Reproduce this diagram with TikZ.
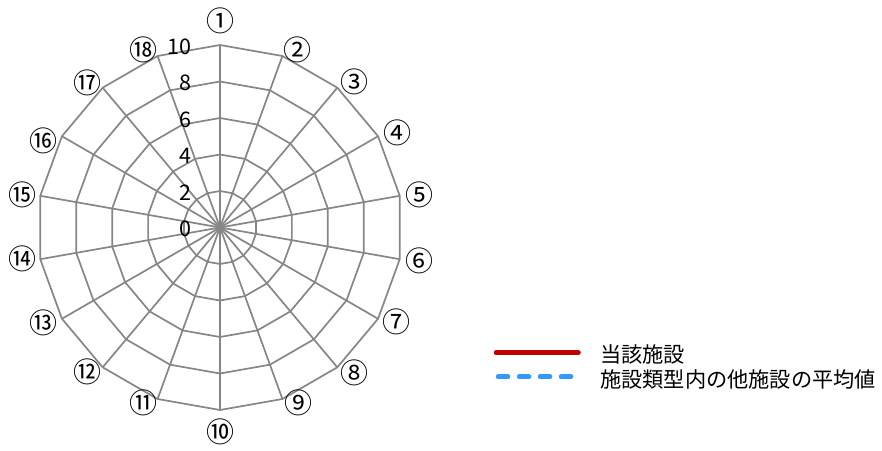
\documentclass[tikz,border=0pt]{standalone}
\usepackage{fontspec}
\setmainfont{Noto Sans CJK JP}
\definecolor{gridgray}{RGB}{134,134,134}
\definecolor{legred}{RGB}{192,0,0}
\definecolor{legblue}{RGB}{51,153,255}
\begin{document}
\begin{tikzpicture}[x=1pt,y=-1pt,
  grid/.style={draw=gridgray,line width=1.7pt},
  axislab/.style={font=\fontsize{28}{28}\selectfont,inner sep=0pt},
  ticklab/.style={font=\fontsize{21.5}{21}\selectfont,inner sep=0pt,anchor=east},
  legtext/.style={font=\fontsize{21.2}{21}\selectfont,inner sep=0pt,anchor=west},
  legline/.style={line width=4.5pt,line cap=round}]
\useasboundingbox (0,0) rectangle (882,450);
\coordinate (C) at (220,227.5);
\foreach \i in {1,...,18}{
  \foreach \k in {1,...,5}{
    \pgfmathsetmacro\px{220+36.5*\k*sin((\i-1)*20)}
    \pgfmathsetmacro\py{227.5-36.5*\k*cos((\i-1)*20)}
    \coordinate (v\k-\i) at (\px,\py);
  }
}
\foreach \k in {1,...,5}{
  \draw[grid] (v\k-1) \foreach \i in {2,...,18}{ -- (v\k-\i)} -- cycle;
}
\foreach \i in {1,...,18}{
  \draw[grid] (C) -- (v5-\i);
}
% tick labels
\node[ticklab] (t0) at (192,229) {0};
\node[ticklab] (t2) at (192,192.5) {2};
\node[ticklab] (t4) at (192,156) {4};
\node[ticklab] (t6) at (192,119.5) {6};
\node[ticklab] (t8) at (192,83) {8};
\node[ticklab] (t10) at (192,46.5) {10};
% axis labels
\node[axislab] (a1) at (220,21) {①};
\node[axislab] (a2) at (297,50) {②};
\node[axislab] (a3) at (354,82) {③};
\node[axislab] (a4) at (397,133) {④};
\node[axislab] (a5) at (419,195) {⑤};
\node[axislab] (a6) at (419,261) {⑥};
\node[axislab] (a7) at (396,322) {⑦};
\node[axislab] (a8) at (354,373) {⑧};
\node[axislab] (a9) at (298,403) {⑨};
\node[axislab] (a10) at (220,432) {⑩};
\node[axislab] (a11) at (143,403) {⑪};
\node[axislab] (a12) at (87,372) {⑫};
\node[axislab] (a13) at (43,323) {⑬};
\node[axislab] (a14) at (23,259) {⑭};
\node[axislab] (a15) at (23,195) {⑮};
\node[axislab] (a16) at (43,141) {⑯};
\node[axislab] (a17) at (87,83) {⑰};
\node[axislab] (a18) at (143,50) {⑱};
% legend
\coordinate (r1) at (496,352.7);
\coordinate (r2) at (578.5,352.7);
\coordinate (b1) at (498,376.7);
\coordinate (b2) at (572,376.7);
\draw[legline,legred] (r1) -- (r2);
\draw[legline,legblue,dash pattern=on 10pt off 11pt] (b1) -- (b2);
\node[legtext] (l1) at (600,354) {当該施設};
\node[legtext] (l2) at (600,379.5) {施設類型内の他施設の平均値};
\end{tikzpicture}
\end{document}
